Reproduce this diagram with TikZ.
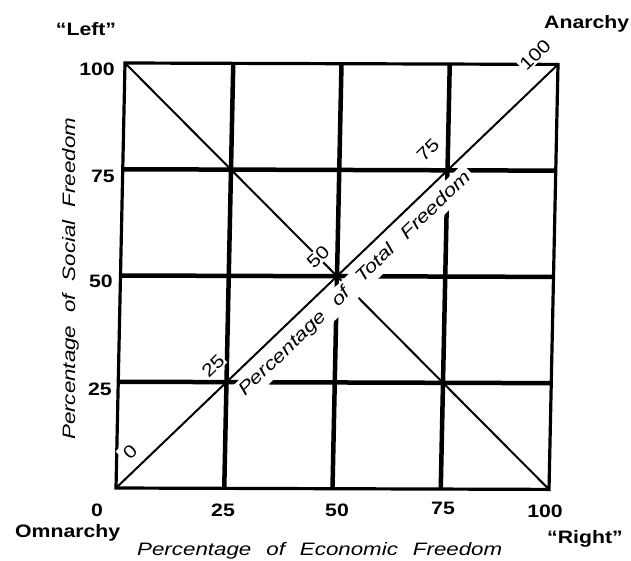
\documentclass[tikz,border=0pt]{standalone}
\usepackage{fontspec}
\setmainfont{Liberation Sans}
\newfontfamily\lbl[FakeStretch=1.18]{Liberation Sans}
\newfontfamily\ttlfont[FakeStretch=1.24]{Liberation Sans}
\newcommand\egap{\hspace{15pt}}
\newcommand\sgap{\hspace{13pt}}
\newcommand\tgap{\hspace{15pt}}
\begin{document}
\begin{tikzpicture}[x=1pt,y=1pt,
  gridline/.style={line width=4.5pt},
  frameline/.style={line width=3.2pt, line join=miter},
  diagline/.style={line width=2pt},
  bold lbl/.style={font=\lbl\bfseries\fontsize{18}{20}\selectfont, inner sep=0pt},
  dlab/.style={font=\lbl\fontsize{18}{20}\selectfont, rotate=44, fill=white, inner sep=1pt},
  axtitle/.style={font=\ttlfont\itshape\fontsize{18}{20}\selectfont, inner sep=0pt}]
\fill[white] (0,0) rectangle (631,-560);
\useasboundingbox (0,0) rectangle (631,-560);

\begin{scope}[shift={(116,-488)}, x={(108.25pt,-0.35pt)}, y={(2.25pt,106.25pt)}]
  \coordinate (BL) at (0,0);
  \coordinate (BR) at (4,0);
  \coordinate (TR) at (4,4);
  \coordinate (TL) at (0,4);
  \foreach \i in {1,2,3} {
    \draw[gridline] (\i,0) -- (\i,4);
    \draw[gridline] (0,\i) -- (4,\i);
  }
  \draw[frameline] (BL) -- (BR) -- (TR) -- (TL) -- cycle;
  \draw[diagline] (TL) -- (BR);
\end{scope}

% diagonal labels (knock out lines beneath)
\node[dlab, inner sep=4pt] (d0) at (130,-452) {0};
\node[dlab] (d25) at (213,-366) {25};
\node[dlab] (d50) at (318,-257) {50};
\node[dlab] (d75) at (428,-150) {75};
\node[dlab] (d100) at (535,-55) {100};
\node[axtitle, rotate=44, anchor=base west, fill=white, inner sep=3.5pt] (tot) at (242.5,-399.5)
  {Percentage\tgap of\tgap Total\tgap Freedom};

\draw[diagline] (BL) -- (TR);

% corner labels
\node[bold lbl, anchor=base] (left) at (86,-35) {“Left”};
\node[bold lbl, anchor=base west] (anarchy) at (544,-28) {Anarchy};
\node[bold lbl, anchor=base west] (omnarchy) at (15,-537) {Omnarchy};
\node[bold lbl, anchor=base west] (right) at (547,-543) {“Right”};

% y axis numbers
\node[bold lbl, anchor=base east] (y100) at (115,-75) {100};
\node[bold lbl, anchor=base east] (y75) at (115,-182) {75};
\node[bold lbl, anchor=base east] (y50) at (113,-287) {50};
\node[bold lbl, anchor=base east] (y25) at (112,-395) {25};

% x axis numbers
\node[bold lbl, anchor=base] (x0) at (97,-516) {0};
\node[bold lbl, anchor=base] (x25) at (223,-516) {25};
\node[bold lbl, anchor=base] (x50) at (337,-516) {50};
\node[bold lbl, anchor=base] (x75) at (443,-514) {75};
\node[bold lbl, anchor=base] (x100) at (545,-517) {100};

% axis titles
\node[axtitle, anchor=base west] (xt) at (137,-555) {Percentage\egap of\egap Economic\egap Freedom};
\node[axtitle, anchor=base west, rotate=90] (yt) at (75,-440) {Percentage\sgap of\sgap Social\sgap Freedom};
\end{tikzpicture}
\end{document}
